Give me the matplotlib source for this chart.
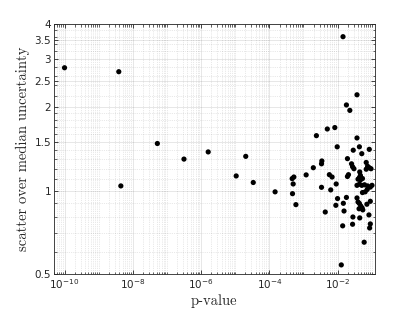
import numpy as np
import matplotlib
matplotlib.use("Agg")
import matplotlib.pyplot as plt
from matplotlib.ticker import FixedLocator, FixedFormatter, LogLocator, NullFormatter

# log10(p-value) and scatter over median uncertainty
log_p = [
    -10.0, -8.41, -8.35, -7.28, -6.50, -5.79, -4.97, -4.69, -4.47, -3.83,
    -2.92, -3.28, -3.33, -3.30, -3.32, -3.22,
    -1.84, -1.43, -1.74, -1.64, -2.62, -2.30, -2.08, -1.43, -2.01, -1.36,
    -1.07, -1.54, -1.29, -1.71, -2.46, -2.47, -1.59, -2.71, -1.56, -1.52,
    -1.16, -1.12, -1.16, -1.07, -1.02, -1.35, -2.24, -2.16, -1.68, -1.71,
    -1.33, -1.36, -1.27, -1.40, -1.33, -2.04, -1.43, -1.36, -1.29, -1.21,
    -1.12, -1.04, -0.99, -2.47, -2.20, -1.19, -1.27, -2.00, -1.74, -1.43,
    -1.40, -1.36, -1.32, -1.28, -1.26, -1.37, -1.14, -1.04, -2.05, -1.83,
    -2.36, -1.81, -1.55, -1.35, -1.08, -1.56, -1.85, -1.04, -1.06, -1.22,
    -1.89, -1.13,
]
ratio = [
    2.78, 2.69, 1.04, 1.48, 1.30, 1.38, 1.13, 1.33, 1.07, 0.99,
    1.14, 1.12, 1.105, 1.057, 0.975, 0.89,
    3.60, 2.22, 2.04, 1.95, 1.58, 1.67, 1.69, 1.55, 1.44, 1.44,
    1.41, 1.40, 1.36, 1.305, 1.28, 1.25, 1.25, 1.21, 1.22, 1.20,
    1.264, 1.225, 1.195, 1.21, 1.20, 1.168, 1.142, 1.120, 1.142, 1.125,
    1.135, 1.115, 1.106, 1.10, 1.093, 1.057, 1.045, 1.055, 1.045, 1.05,
    1.04, 1.03, 1.045, 1.028, 1.006, 0.99, 0.984, 0.936, 0.945, 0.941,
    0.91, 0.899, 0.880, 0.866, 0.852, 0.860, 0.893, 0.915, 0.885, 0.90,
    0.837, 0.844, 0.803, 0.797, 0.817, 0.756, 0.746, 0.758, 0.733, 0.651,
    0.539, 1.01,
]

y_ticks = [0.5, 1, 1.5, 2, 2.5, 3, 3.5, 4]
y_tick_labels = ["0.5", "1", "1.5", "2", "2.5", "3", "3.5", "4"]
x_ticks = [1e-10, 1e-8, 1e-6, 1e-4, 1e-2]
x_label = "p-value"
y_label = "scatter over median uncertainty"

grey = "#262626"

fig = plt.figure(figsize=(4.15, 3.12), dpi=100)
ax = fig.add_axes([0.130, 0.122, 0.773, 0.801])

p = 10.0 ** np.array(log_p)
ax.scatter(p, ratio, s=14, c="black", edgecolors="none", zorder=3)

ax.set_xscale("log")
ax.set_yscale("log")
ax.set_xlim(10 ** -10.31, 10 ** -0.91)
ax.set_ylim(0.5, 4)

ax.xaxis.set_major_locator(FixedLocator(x_ticks))
ax.xaxis.set_minor_locator(LogLocator(base=10, subs=np.arange(1, 10), numticks=200))
ax.xaxis.set_minor_formatter(NullFormatter())

ax.yaxis.set_major_locator(FixedLocator(y_ticks))
ax.yaxis.set_major_formatter(FixedFormatter(y_tick_labels))
minor_y = list(np.arange(0.6, 2.0, 0.1)) + list(np.arange(2.2, 4.0, 0.2))
ax.yaxis.set_minor_locator(FixedLocator(minor_y))
ax.yaxis.set_minor_formatter(NullFormatter())

ax.grid(True, which="major", color=grey, alpha=0.13, linewidth=0.6, linestyle="-")
ax.grid(True, which="minor", color=grey, alpha=0.2, linewidth=0.5, linestyle=":")
ax.set_axisbelow(True)

ax.tick_params(which="both", direction="in", top=True, right=True,
               colors=grey, labelsize=7.5)
ax.tick_params(which="major", length=3, width=0.6)
ax.tick_params(axis="y", which="major", pad=2)
ax.tick_params(axis="x", which="major", pad=2.5)
ax.tick_params(which="minor", length=1.8, width=0.5)
for s in ax.spines.values():
    s.set_color(grey)
    s.set_linewidth(0.6)

ax.set_xlabel(x_label, fontfamily="cmr10", fontsize=10.5, color=grey, labelpad=2)
ax.set_ylabel(y_label, fontfamily="cmr10", fontsize=10.5, color=grey, labelpad=3)

fig.savefig("out.png", dpi=100)
